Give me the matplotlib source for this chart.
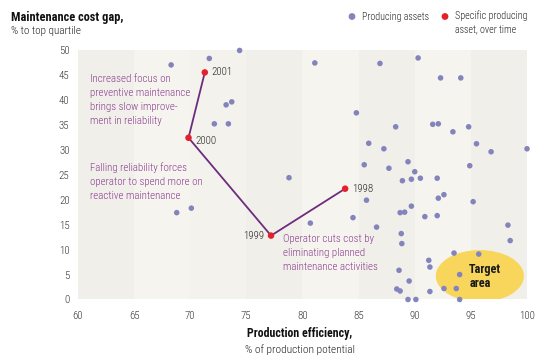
import matplotlib
matplotlib.use("Agg")
import matplotlib.pyplot as plt
from matplotlib.patches import Ellipse, Rectangle

assets_x = [68.3, 71.7, 74.4, 73.2, 73.7, 72.15, 73.4, 68.8, 70.1, 78.8,
            81.1, 86.9, 90.3, 92.3, 94.1, 84.8, 88.3, 91.6, 92.1, 93.4,
            94.8, 85.9, 87.25, 95.5, 96.8, 100.0, 85.5, 87.7, 89.4, 94.9,
            90.0, 88.9, 89.7, 90.5, 92.0, 85.7, 92.1, 92.6, 95.2, 80.7,
            84.5, 86.6, 88.7, 89.1, 89.7, 90.9, 92.0, 98.3, 98.5, 88.8,
            88.85, 93.5, 95.7, 91.25, 91.35, 94.0, 88.6, 89.5, 88.4, 88.7,
            91.35, 92.6, 93.7, 89.4, 90.1, 94.0]
assets_y = [47.0, 48.3, 49.9, 39.0, 39.6, 35.2, 35.2, 17.4, 18.3, 24.4,
            47.4, 47.3, 48.4, 44.4, 44.4, 37.4, 34.6, 35.1, 35.2, 33.6,
            34.6, 31.3, 30.2, 31.2, 29.6, 30.2, 27.0, 26.3, 27.6, 26.8,
            25.6, 23.8, 24.1, 24.3, 24.3, 19.9, 20.3, 21.0, 19.6, 15.3,
            16.4, 14.5, 17.4, 17.5, 18.7, 16.6, 16.8, 14.9, 11.8, 13.2,
            11.2, 9.3, 9.1, 7.85, 6.5, 5.0, 5.85, 3.7, 2.1, 1.7,
            1.6, 2.2, 2.2, 0.0, 0.0, 0.0]

years = ['1998', '1999', '2000', '2001']
specific_x = [83.8, 77.2, 69.85, 71.3]
specific_y = [22.2, 12.8, 32.4, 45.5]

xticks = [60, 65, 70, 75, 80, 85, 90, 95, 100]
yticks = [0, 5, 10, 15, 20, 25, 30, 35, 40, 45, 50]

FONT = ['Roboto Condensed', 'Archivo Narrow', 'DejaVu Sans']
plt.rcParams['font.family'] = FONT

FS = 7.8

fig = plt.figure(figsize=(5.45, 3.62), dpi=100)
ax = fig.add_axes([0.143, 0.1727, 0.824, 0.6893])
ax.set_xlim(60, 100)
ax.set_ylim(0, 50)

band_cols = ['#f0efe9', '#f5f4ee', '#f3f2ec', '#f0efe9', '#f5f4ee', '#f0efe9', '#f5f4ee', '#f0efe9']
for i, c in enumerate(band_cols):
    ax.add_patch(Rectangle((60 + 5 * i, 0), 5, 50, facecolor=c, edgecolor='none', zorder=0))

for s in ax.spines.values():
    s.set_visible(False)
ax.tick_params(length=0, labelsize=FS, colors='#333333')
ax.tick_params(axis='y', pad=6)
ax.tick_params(axis='x', pad=8)
ax.set_xticks(xticks)
ax.set_yticks(yticks)
for lab in ax.get_xticklabels() + ax.get_yticklabels():
    lab.set_fontweight('light')

ax.add_patch(Ellipse((95.8, 4.7), 7.85, 10.4, facecolor='#f8d65c', edgecolor='none', zorder=1))
ax.text(94.85, 4.6, 'Target\narea', fontsize=8.8, fontweight='bold', color='#1a1a1a',
        va='center', ha='left', linespacing=1.1, zorder=2)

blue = '#8383bd'
red = '#e4212b'
purple = '#6d2c7e'
ptext = '#8a3b8f'

ax.scatter(assets_x, assets_y, s=16, color=blue, edgecolors='none', zorder=3, clip_on=False)
ax.plot(specific_x, specific_y, color=purple, lw=1.3, zorder=4)
ax.scatter(specific_x, specific_y, s=22, color=red, edgecolors='none', zorder=5)

yl = dict(fontsize=FS, va='center', color='#222222', fontweight='light')
ax.text(specific_x[3] + 0.6, specific_y[3], years[3], ha='left', **yl)
ax.text(specific_x[2] + 0.6, specific_y[2] - 0.6, years[2], ha='left', **yl)
ax.text(specific_x[1] - 0.6, specific_y[1], years[1], ha='right', **yl)
ax.text(specific_x[0] + 0.6, specific_y[0], years[0], ha='left', **yl)

an = dict(fontsize=FS, color=ptext, va='top', ha='left', linespacing=1.5, fontweight='light')
ax.text(61.1, 45.25, 'Increased focus on\npreventive maintenance\nbrings slow improve-\nment in reliability', **an)
ax.text(61.1, 27.6, 'Falling reliability forces\noperator to spend more on\nreactive maintenance', **an)
ax.text(78.25, 13.2, 'Operator cuts cost by\neliminating planned\nmaintenance activities', **an)

fig.text(11 / 545, 1 - 17 / 362, 'Maintenance cost gap,', fontsize=8.9, fontweight='bold', color='#111111', va='center')
fig.text(11 / 545, 1 - 31 / 362, '% to top quartile', fontsize=8.0, color='#222222', va='center', fontweight='light')

fig.text(300 / 545, 1 - 333 / 362, 'Production efficiency,', fontsize=8.6, fontweight='bold', color='#111111', va='center', ha='center')
fig.text(300 / 545, 1 - 350 / 362, '% of production potential', fontsize=8.2, color='#222222', va='center', ha='center', fontweight='light')

LS = 7.2
ax.scatter([352 / 545], [1 - 16.5 / 362], s=24, color=blue, transform=fig.transFigure, edgecolors='none', clip_on=False)
fig.text(362 / 545, 1 - 16.5 / 362, 'Producing assets', fontsize=LS, color='#222222', va='center', fontweight='light')
ax.scatter([445 / 545], [1 - 16.5 / 362], s=24, color=red, transform=fig.transFigure, edgecolors='none', clip_on=False)
fig.text(455 / 545, 1 - 10.5 / 362, 'Specific producing\nasset, over time', fontsize=LS, color='#222222', va='top',
         linespacing=1.45, fontweight='light')

fig.savefig('out.png', dpi=100)
